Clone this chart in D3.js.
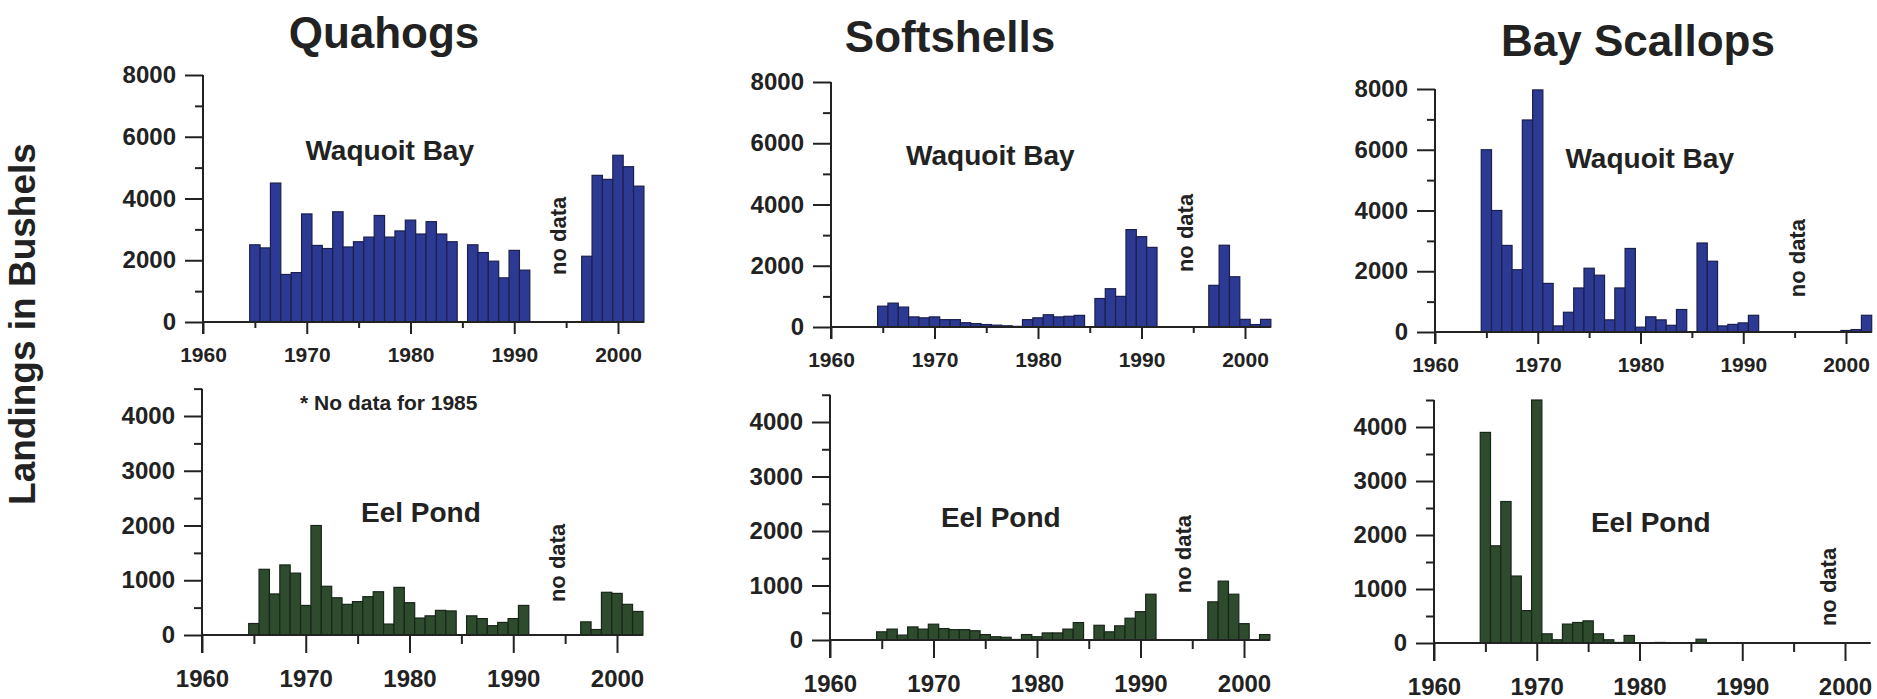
<!DOCTYPE html>
<html>
<head>
<meta charset="utf-8">
<script src="https://cdn.jsdelivr.net/npm/d3@7/dist/d3.min.js"></script>
<style>
  body { margin: 0; background: #fff; }
  svg { display: block; }
</style>
</head>
<body>
<svg id="chart" width="1877" height="699"></svg>
<script>
// ---- data (bushels landed per year, null = no data) ----
const years = [1965, 1966, 1967, 1968, 1969, 1970, 1971, 1972, 1973, 1974,
               1975, 1976, 1977, 1978, 1979, 1980, 1981, 1982, 1983, 1984,
               1985, 1986, 1987, 1988, 1989, 1990, 1991, 1992, 1993, 1994,
               1995, 1996, 1997, 1998, 1999, 2000, 2001, 2002];

const quahogsWaquoit = [2500, 2400, 4500, 1540, 1600, 3500, 2480, 2380, 3570, 2430,
                        2600, 2750, 3450, 2750, 2950, 3300, 2850, 3250, 2850, 2600,
                        null, 2500, 2250, 1970, 1430, 2320, 1680, null, null, null,
                        null, null, 2130, 4750, 4620, 5400, 5030, 4400];
const quahogsEel = [210, 1200, 750, 1280, 1130, 540, 2000, 890, 680, 560,
                    610, 700, 790, 200, 870, 590, 310, 350, 450, 440,
                    null, 350, 300, 170, 230, 300, 540, null, null, null,
                    null, null, 240, 100, 780, 760, 560, 430];
const softshellsWaquoit = [680, 780, 650, 330, 300, 330, 240, 240, 140, 110,
                           80, 60, 40, 20, 240, 300, 400, 330, 350, 380,
                           null, 930, 1250, 1000, 3180, 2950, 2600, null, null, null,
                           null, null, 1360, 2670, 1640, 250, 80, 250];
const softshellsEel = [150, 200, 90, 240, 200, 290, 210, 190, 190, 170,
                       100, 60, 50, 10, 100, 60, 130, 130, 200, 320,
                       null, 270, 150, 260, 400, 520, 840, null, null, null,
                       null, null, 700, 1080, 840, 300, 0, 100];
const scallopsWaquoit = [6000, 4000, 2850, 2050, 6980, 7970, 1600, 200, 650, 1450,
                         2100, 1870, 400, 1450, 2750, 160, 500, 400, 220, 740,
                         null, 2930, 2330, 200, 250, 300, 550, null, null, null,
                         null, null, 0, 0, 0, 50, 80, 550];
const scallopsEel = [3900, 1800, 2620, 1240, 600, 4500, 170, 60, 350, 380,
                     410, 170, 60, 10, 140, 0, 0, 10, 0, 0,
                     0, 70, 0, 0, 0, 0, 0, 0, 0, 0,
                     0, 0, null, null, null, null, null, null];

const speciesNames = ["Quahogs", "Softshells", "Bay Scallops"];
const siteNames = ["Waquoit Bay", "Eel Pond"];
const xMajorTicks = [1960, 1970, 1980, 1990, 2000];
const xMinorTicks = [1965, 1975, 1985, 1995];
const topMajorTicks = [0, 2000, 4000, 6000, 8000];
const topMinorTicks = [1000, 3000, 5000, 7000];
const bottomMajorTicks = [0, 1000, 2000, 3000, 4000];
const bottomMinorTicks = [500, 1500, 2500, 3500, 4500];

// ---- styles ----
const font_family = "'Liberation Sans', Arial, Helvetica, sans-serif";
const font_color = "#222";
const axis_color = "#222";
const blue = { fill: "#2d3a94", stroke: "#1b1f4e" };
const green = { fill: "#2f4b2d", stroke: "#18261a" };

// ---- panel layout (pixel frames for each small chart) ----
const panels = [
  { values: quahogsWaquoit, col: 0, site: 0, color: blue, x0: 203, x1: 618, y0: 322, yTop: 75, yMax: 8000, axisMax: 8000,
    major: topMajorTicks, minor: topMinorTicks, label: [1978, 5250], noData: [1994.2, 2790] },
  { values: quahogsEel, col: 0, site: 1, color: green, x0: 202, x1: 617, y0: 635, yTop: 416, yMax: 4000, axisMax: 4500,
    major: bottomMajorTicks, minor: bottomMinorTicks, label: [1981.1, 2064], noData: [1994.2, 1315], note: [1978, 4110] },
  { values: softshellsWaquoit, col: 1, site: 0, color: blue, x0: 831, x1: 1245, y0: 327, yTop: 82, yMax: 8000, axisMax: 8000,
    major: topMajorTicks, minor: topMinorTicks, label: [1975.4, 5290], noData: [1994.2, 3070] },
  { values: softshellsEel, col: 1, site: 1, color: green, x0: 830, x1: 1244, y0: 640, yTop: 422, yMax: 4000, axisMax: 4500,
    major: bottomMajorTicks, minor: bottomMinorTicks, label: [1976.5, 2070], noData: [1994.1, 1575] },
  { values: scallopsWaquoit, col: 2, site: 0, color: blue, x0: 1435, x1: 1846, y0: 332, yTop: 89, yMax: 8000, axisMax: 8000,
    major: topMajorTicks, minor: topMinorTicks, label: [1980.9, 5400], noData: [1995.3, 2430] },
  { values: scallopsEel, col: 2, site: 1, color: green, x0: 1434, x1: 1845, y0: 643, yTop: 427, yMax: 4000, axisMax: 4500,
    major: bottomMajorTicks, minor: bottomMinorTicks, label: [1981.1, 2055], noData: [1998.4, 1037] }
];

const titlePos = [[384, 48], [950, 52], [1638, 56]];

const svg = d3.select("#chart");

// Column titles
speciesNames.forEach((name, i) => {
  svg.append("text")
    .attr("x", titlePos[i][0])
    .attr("y", titlePos[i][1])
    .attr("text-anchor", "middle")
    .attr("font-family", font_family)
    .attr("font-size", 44)
    .attr("font-weight", "bold")
    .attr("fill", font_color)
    .text(name);
});

// Shared y-axis label
svg.append("text")
  .attr("transform", "translate(35, 324) rotate(-90)")
  .attr("text-anchor", "middle")
  .attr("font-family", font_family)
  .attr("font-size", 37)
  .attr("font-weight", "bold")
  .attr("fill", font_color)
  .text("Landings in Bushels");

function styleAxis(g, fontSize) {
  g.select(".domain").remove();
  g.selectAll("line").attr("stroke", axis_color).attr("stroke-width", 2);
  g.selectAll("text")
    .attr("font-family", font_family)
    .attr("font-size", fontSize)
    .attr("font-weight", "bold")
    .attr("fill", font_color);
}

panels.forEach(p => {
  const isTop = p.site === 0;
  const xScale = d3.scaleLinear().domain([1960, 2000]).range([p.x0, p.x1]);
  const yScale = d3.scaleLinear().domain([0, p.yMax]).range([p.y0, p.yTop]);
  const g = svg.append("g");

  const xMajorLen = isTop ? 12 : 18;
  const xMinorLen = isTop ? 6 : 9;

  // Bars, one year wide and centred on the year
  const barData = years.map((yr, i) => ({ year: yr, value: p.values[i] }))
    .filter(d => d.value !== null && d.value > 0);

  g.selectAll("rect.bar")
    .data(barData)
    .enter()
    .append("rect")
    .attr("class", "bar")
    .attr("x", d => xScale(d.year - 0.5))
    .attr("width", d => xScale(d.year + 0.5) - xScale(d.year - 0.5))
    .attr("y", d => yScale(d.value))
    .attr("height", d => yScale(0) - yScale(d.value))
    .attr("fill", p.color.fill)
    .attr("stroke", p.color.stroke)
    .attr("stroke-width", 1.2);

  // Baseline at zero
  g.append("line")
    .attr("x1", xScale(1960))
    .attr("x2", xScale(2002.5))
    .attr("y1", yScale(0))
    .attr("y2", yScale(0))
    .attr("stroke", axis_color)
    .attr("stroke-width", 2);

  // Vertical axis line (runs down to form the 1960 tick)
  g.append("line")
    .attr("x1", xScale(1960))
    .attr("x2", xScale(1960))
    .attr("y1", yScale(p.axisMax))
    .attr("y2", yScale(0) + xMajorLen)
    .attr("stroke", axis_color)
    .attr("stroke-width", 2);

  // Y ticks
  g.append("g")
    .attr("transform", `translate(${xScale(1960)},0)`)
    .call(d3.axisLeft(yScale).tickValues(p.major).tickSize(18).tickPadding(9).tickFormat(d3.format("d")))
    .call(ax => styleAxis(ax, 24));

  g.append("g")
    .attr("transform", `translate(${xScale(1960)},0)`)
    .call(d3.axisLeft(yScale).tickValues(p.minor).tickSize(8).tickFormat(""))
    .call(ax => styleAxis(ax, 24));

  // X ticks
  g.append("g")
    .attr("transform", `translate(0,${yScale(0)})`)
    .call(d3.axisBottom(xScale).tickValues(xMajorTicks).tickSize(xMajorLen)
      .tickPadding(isTop ? 13 : 17).tickFormat(d3.format("d")))
    .call(ax => styleAxis(ax, isTop ? 21 : 24));

  g.append("g")
    .attr("transform", `translate(0,${yScale(0)})`)
    .call(d3.axisBottom(xScale).tickValues(xMinorTicks).tickSize(xMinorLen).tickFormat(""))
    .call(ax => styleAxis(ax, 24));

  // Site label
  g.append("text")
    .attr("x", xScale(p.label[0]))
    .attr("y", yScale(p.label[1]))
    .attr("text-anchor", "middle")
    .attr("font-family", font_family)
    .attr("font-size", 28)
    .attr("font-weight", "bold")
    .attr("fill", font_color)
    .text(siteNames[p.site]);

  // Rotated "no data" note
  g.append("text")
    .attr("transform", `translate(${xScale(p.noData[0])},${yScale(p.noData[1])}) rotate(-90)`)
    .attr("text-anchor", "middle")
    .attr("dy", "0.35em")
    .attr("font-family", font_family)
    .attr("font-size", 22)
    .attr("font-weight", "bold")
    .attr("fill", font_color)
    .text("no data");

  if (p.note) {
    g.append("text")
      .attr("x", xScale(p.note[0]))
      .attr("y", yScale(p.note[1]))
      .attr("text-anchor", "middle")
      .attr("font-family", font_family)
      .attr("font-size", 21)
      .attr("font-weight", "bold")
      .attr("fill", font_color)
      .text("* No data for 1985");
  }
});
</script>
</body>
</html>
